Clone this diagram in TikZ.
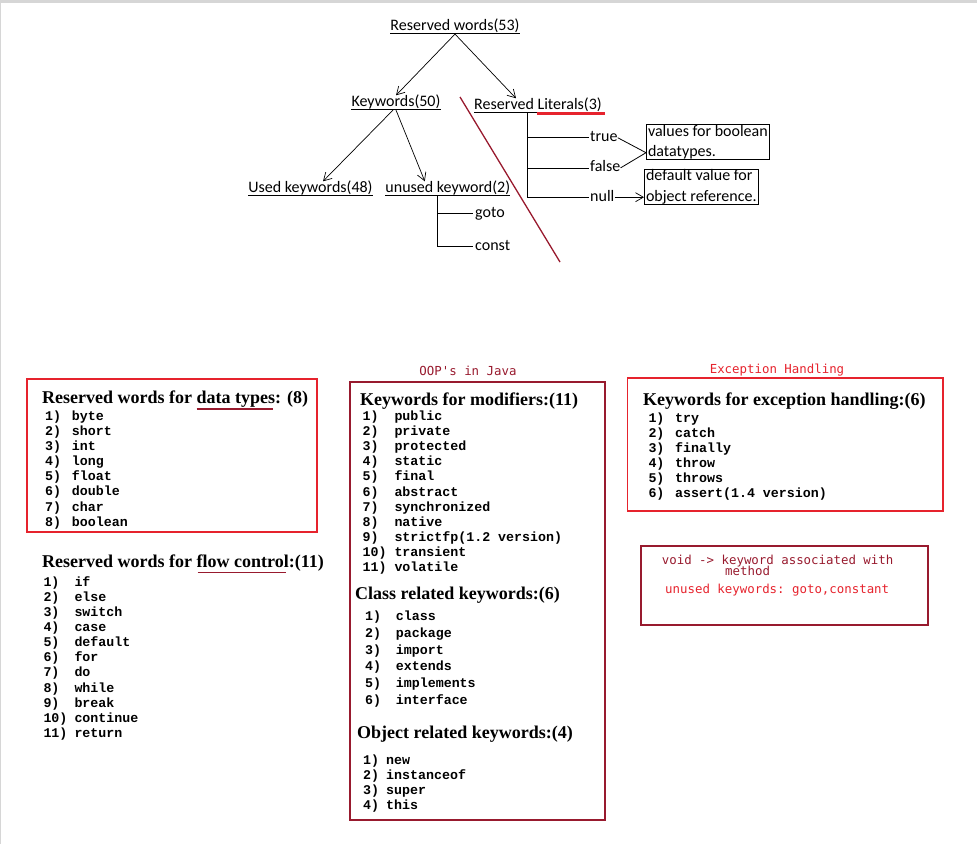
\documentclass[tikz,border=0pt]{standalone}
\usepackage{fontspec}
\setmainfont{Liberation Serif}
\setmonofont{DejaVu Sans Mono}
\newfontfamily\calfnt{Carlito}
\newfontfamily\courfnt{Liberation Mono}
\usetikzlibrary{arrows.meta}

\definecolor{brightred}{RGB}{230,35,45}
\definecolor{darkred}{RGB}{152,26,46}
\definecolor{gbar}{RGB}{214,214,214}

\tikzset{
 tree/.style={font=\calfnt\fontsize{16}{19.5}\selectfont, inner sep=0pt, text height=11pt, text depth=3.4pt},
 tbox/.style={draw, line width=1.1pt, font=\calfnt\fontsize{16}{20.6}\selectfont, align=left, inner xsep=1.5pt, inner ysep=0.3pt, anchor=north west},
 arr/.style={line width=0.7pt, -{Straight Barb[angle=60:9pt]}},
 tln/.style={line width=0.8pt},
 ttl/.style={font=\bfseries\fontsize{18}{20}\selectfont, anchor=base west, inner sep=0pt},
 item/.style={font=\courfnt\bfseries\fontsize{13.3}{15}\selectfont, anchor=base west, inner sep=0pt},
 rlabel/.style={font=\ttfamily\fontsize{12.4}{14}\selectfont, anchor=base west, inner sep=0pt},
 redbox/.style={draw=brightred, line width=1.8pt},
 dredbox/.style={draw=darkred, line width=1.8pt},
}

\newcommand{\kwitems}[6]{%
  \foreach \w [count=\i] in {#6} {
    \node[item] (#1n\i) at ({#2},{-(#4)-(#5)*(\i-1)}) {\i)};
    \node[item] (#1w\i) at ({#3},{-(#4)-(#5)*(\i-1)}) {\w};
  }}

\begin{document}
\begin{tikzpicture}[x=1pt,y=1pt]
\useasboundingbox (0,0) rectangle (977,-844);
\fill[gbar] (0,0) rectangle (977,-2.5);
\draw[gbar, line width=1pt] (0.5,0) -- (0.5,-844);

% ---------- top tree ----------
\node[tree] (rw) at (455,-26.7) {Reserved words(53)};
\node[tree] (kw) at (396,-102.7) {Keywords(50)};
\node[tree] (rl) at (538,-105.7) {Reserved Literals(3)};
\node[tree] (uk) at (310.5,-188.7) {Used keywords(48)};
\node[tree] (un) at (447.8,-188.7) {unused keyword(2)};
\node[tree, anchor=west] (goto) at (475,-213.7) {goto};
\node[tree, anchor=west] (const) at (475,-246.7) {const};
\node[tree, anchor=west] (true) at (590,-137.7) {true};
\node[tree, anchor=west] (false) at (590,-167.9) {false};
\node[tree, anchor=west] (null) at (590,-197.2) {null};

\foreach \n in {rw,kw,rl,uk,un}
  \draw[line width=0.8pt] ([yshift=.6pt]\n.south west) -- ([yshift=.6pt]\n.south east);
\draw[brightred, line width=2.6pt] (536.7,-113.6) -- (605,-113.6);

\draw[arr] (rw.south) -- (kw.north);
\draw[arr] (rw.south) -- ([xshift=-22pt]rl.north);
\draw[arr] ([xshift=-3pt]kw.south) -- ([xshift=12.5pt]uk.north);
\draw[arr] (kw.south) -- ([xshift=-23pt]un.north);

\draw[tln] ([xshift=52pt]un.south west) |- ([xshift=-2pt]goto.west);
\draw[tln] ([xshift=52pt]un.south west) |- ([xshift=-2pt]const.west);

\draw[tln] ([xshift=53.3pt]rl.south west) |- ([xshift=-1pt]true.west);
\draw[tln] ([xshift=53.3pt]rl.south west) |- ([xshift=-1pt]false.west);
\draw[tln] ([xshift=53.3pt]rl.south west) |- ([xshift=-1pt]null.west);

\node[tbox] (vb) at (646,-124.3) {values for boolean\\datatypes.};
\node[tbox] (dv) at (644,-169) {default value for\\object reference.};

\draw[tln] (true.east) -- ([yshift=-10.4pt]vb.west) -- (false.east);
\draw[arr] (null.east) -- (null.east -| dv.west);

\draw[darkred, line width=1.3pt] (460,-97) -- (560,-262);

% ---------- bottom boxes ----------
\draw[redbox] (27,-379.3) rectangle (317,-532.3);
\draw[dredbox] (350,-381.7) rectangle (605,-820);
\draw[redbox] (627.5,-378.3) rectangle (943.3,-511);
\draw[dredbox] (641,-545.7) rectangle (928.3,-625);

\node[rlabel, anchor=base, text=darkred] (oop) at (468,-375.7) {OOP's in Java};
\node[rlabel, anchor=base, text=brightred] (exh) at (777,-373) {Exception Handling};

\node[ttl] (t1) at (42,-403) {Reserved words for data types: (8)};
\node[ttl] (t2) at (42,-567) {Reserved words for flow control:(11)};
\node[ttl] (t3) at (360,-405) {Keywords for modifiers:(11)};
\node[ttl] (t4) at (355,-599) {Class related keywords:(6)};
\node[ttl] (t5) at (357,-738) {Object related keywords:(4)};
\node[ttl] (t6) at (643,-405) {Keywords for exception handling:(6)};

\draw[darkred, line width=1.8pt] (196.7,-409) -- (273.3,-409);
\draw[darkred, line width=1.8pt] (197.7,-572.5) -- (285.7,-572.5);

\kwitems{a}{45}{71.7}{420.7}{15.05}{byte,short,int,long,float,double,char,boolean}
\kwitems{b}{43.3}{74.3}{586.3}{15.1}{if,else,switch,case,default,for,do,while,break,continue,return}
\kwitems{c}{362.5}{394.3}{420.7}{15.06}{public,private,protected,static,final,abstract,synchronized,native,strictfp(1.2 version),transient,volatile}
\kwitems{d}{365}{395.7}{620.7}{16.7}{class,package,import,extends,implements,interface}
\kwitems{e}{363}{386}{764}{15}{new,instanceof,super,this}
\kwitems{f}{648.3}{675}{422.3}{15}{try,catch,finally,throw,throws,assert(1.4 version)}

\node[rlabel, text=darkred] (void1) at (661.7,-564) {void -> keyword associated with};
\node[rlabel, text=darkred] (void2) at (725,-575.7) {method};
\node[rlabel, text=brightred] (unk) at (665,-593) {unused keywords: goto,constant};
\end{tikzpicture}
\end{document}
